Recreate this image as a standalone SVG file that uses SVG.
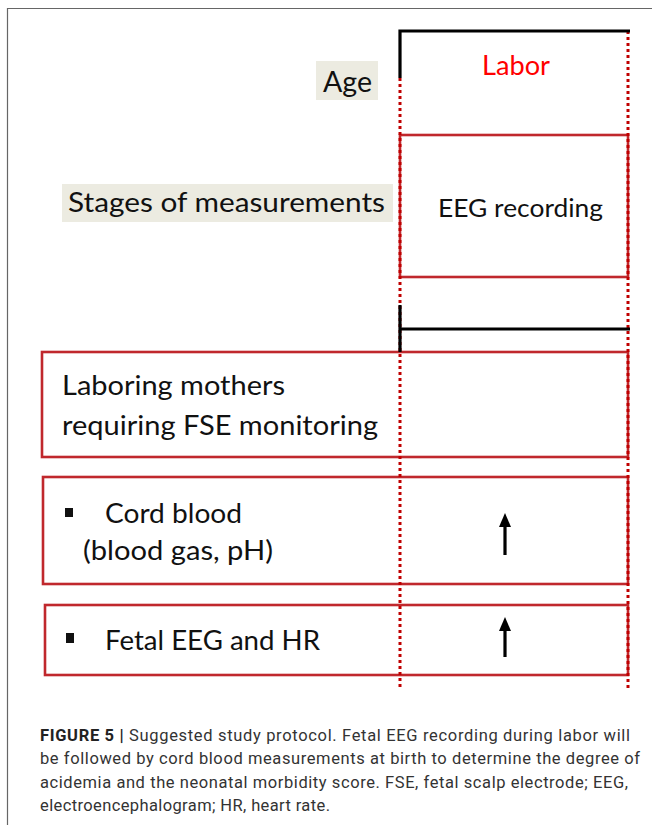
<svg xmlns="http://www.w3.org/2000/svg" width="652" height="825" viewBox="0 0 652 825">
<style>
.lbl{font-family:Lato,"Open Sans","DejaVu Sans",sans-serif;fill:#111;}
.box{fill:none;stroke:#c0282d;stroke-width:2.6;}
.dot{fill:none;stroke:#c00000;stroke-width:3;stroke-dasharray:3 3;}
.blk{fill:none;stroke:#000;stroke-width:3.2;}
.tag{fill:#ecebe1;}
.cap{font-family:Roboto,"Liberation Sans",Arial,sans-serif;font-size:16.5px;fill:#333;}
</style>
<rect x="0" y="0" width="652" height="825" fill="#fff"/>
<path d="M7.5,825 V8.5 H652" fill="none" stroke="#666" stroke-width="1.2"/>

<g id="age">
<rect class="tag" x="316" y="61" width="62" height="39"/>
<text class="lbl" x="323" y="92" font-size="28" textLength="49" lengthAdjust="spacingAndGlyphs">Age</text>
</g>
<g id="stages">
<rect class="tag" x="62" y="184" width="331" height="38"/>
<text class="lbl" x="68" y="212" font-size="26" textLength="317" lengthAdjust="spacingAndGlyphs">Stages of measurements</text>
</g>
<g id="labor">
<text x="482" y="75" font-family="Lato,'Open Sans',sans-serif" font-size="26" fill="#ff0000" textLength="68" lengthAdjust="spacingAndGlyphs">Labor</text>
</g>
<g id="eeg">
<rect class="box" x="400" y="135" width="228" height="142"/>
<text class="lbl" x="438" y="217" font-size="25" textLength="165" lengthAdjust="spacingAndGlyphs">EEG recording</text>
</g>
<g id="mothers">
<rect class="box" x="42" y="352" width="586" height="105"/>
<text class="lbl" x="62" y="395" font-size="26" textLength="223" lengthAdjust="spacingAndGlyphs">Laboring mothers</text>
<text class="lbl" x="62" y="435" font-size="26" textLength="316" lengthAdjust="spacingAndGlyphs">requiring FSE monitoring</text>
</g>
<g id="cord">
<rect class="box" x="43" y="477" width="585" height="107"/>
<rect x="65" y="508" width="8" height="9" fill="#111"/>
<text class="lbl" x="105" y="523" font-size="26" textLength="137" lengthAdjust="spacingAndGlyphs">Cord blood</text>
<text class="lbl" x="83" y="560" font-size="26" textLength="190" lengthAdjust="spacingAndGlyphs">(blood gas, pH)</text>
</g>
<g id="fetal">
<rect class="box" x="45" y="605" width="583" height="70"/>
<rect x="66" y="633" width="8" height="10" fill="#111"/>
<text class="lbl" x="105" y="650" font-size="26" textLength="215" lengthAdjust="spacingAndGlyphs">Fetal EEG and HR</text>
</g>

<g id="connectors">
<path class="dot" d="M400,78 V688"/>
<path class="dot" d="M628,31 V688"/>
<path class="blk" d="M400,78 V31 H630"/>
<path class="blk" d="M400,352 V305 M400,329 H630"/>
<path d="M505,555 V524" stroke="#000" stroke-width="3.2"/>
<polygon points="505,513 499,527 511,527" fill="#000"/>
<path d="M505,657 V628" stroke="#000" stroke-width="3.2"/>
<polygon points="505,617 499,631 511,631" fill="#000"/>
</g>

<g id="caption">
<text class="cap" x="40" y="741" textLength="590" lengthAdjust="spacing"><tspan font-weight="bold" fill="#222">FIGURE 5 |</tspan> Suggested study protocol. Fetal EEG recording during labor will</text>
<text class="cap" x="40" y="764" textLength="600" lengthAdjust="spacing">be followed by cord blood measurements at birth to determine the degree of</text>
<text class="cap" x="40" y="788" textLength="588" lengthAdjust="spacing">acidemia and the neonatal morbidity score. FSE, fetal scalp electrode; EEG,</text>
<text class="cap" x="40" y="811" textLength="290" lengthAdjust="spacing">electroencephalogram; HR, heart rate.</text>
</g>
</svg>
